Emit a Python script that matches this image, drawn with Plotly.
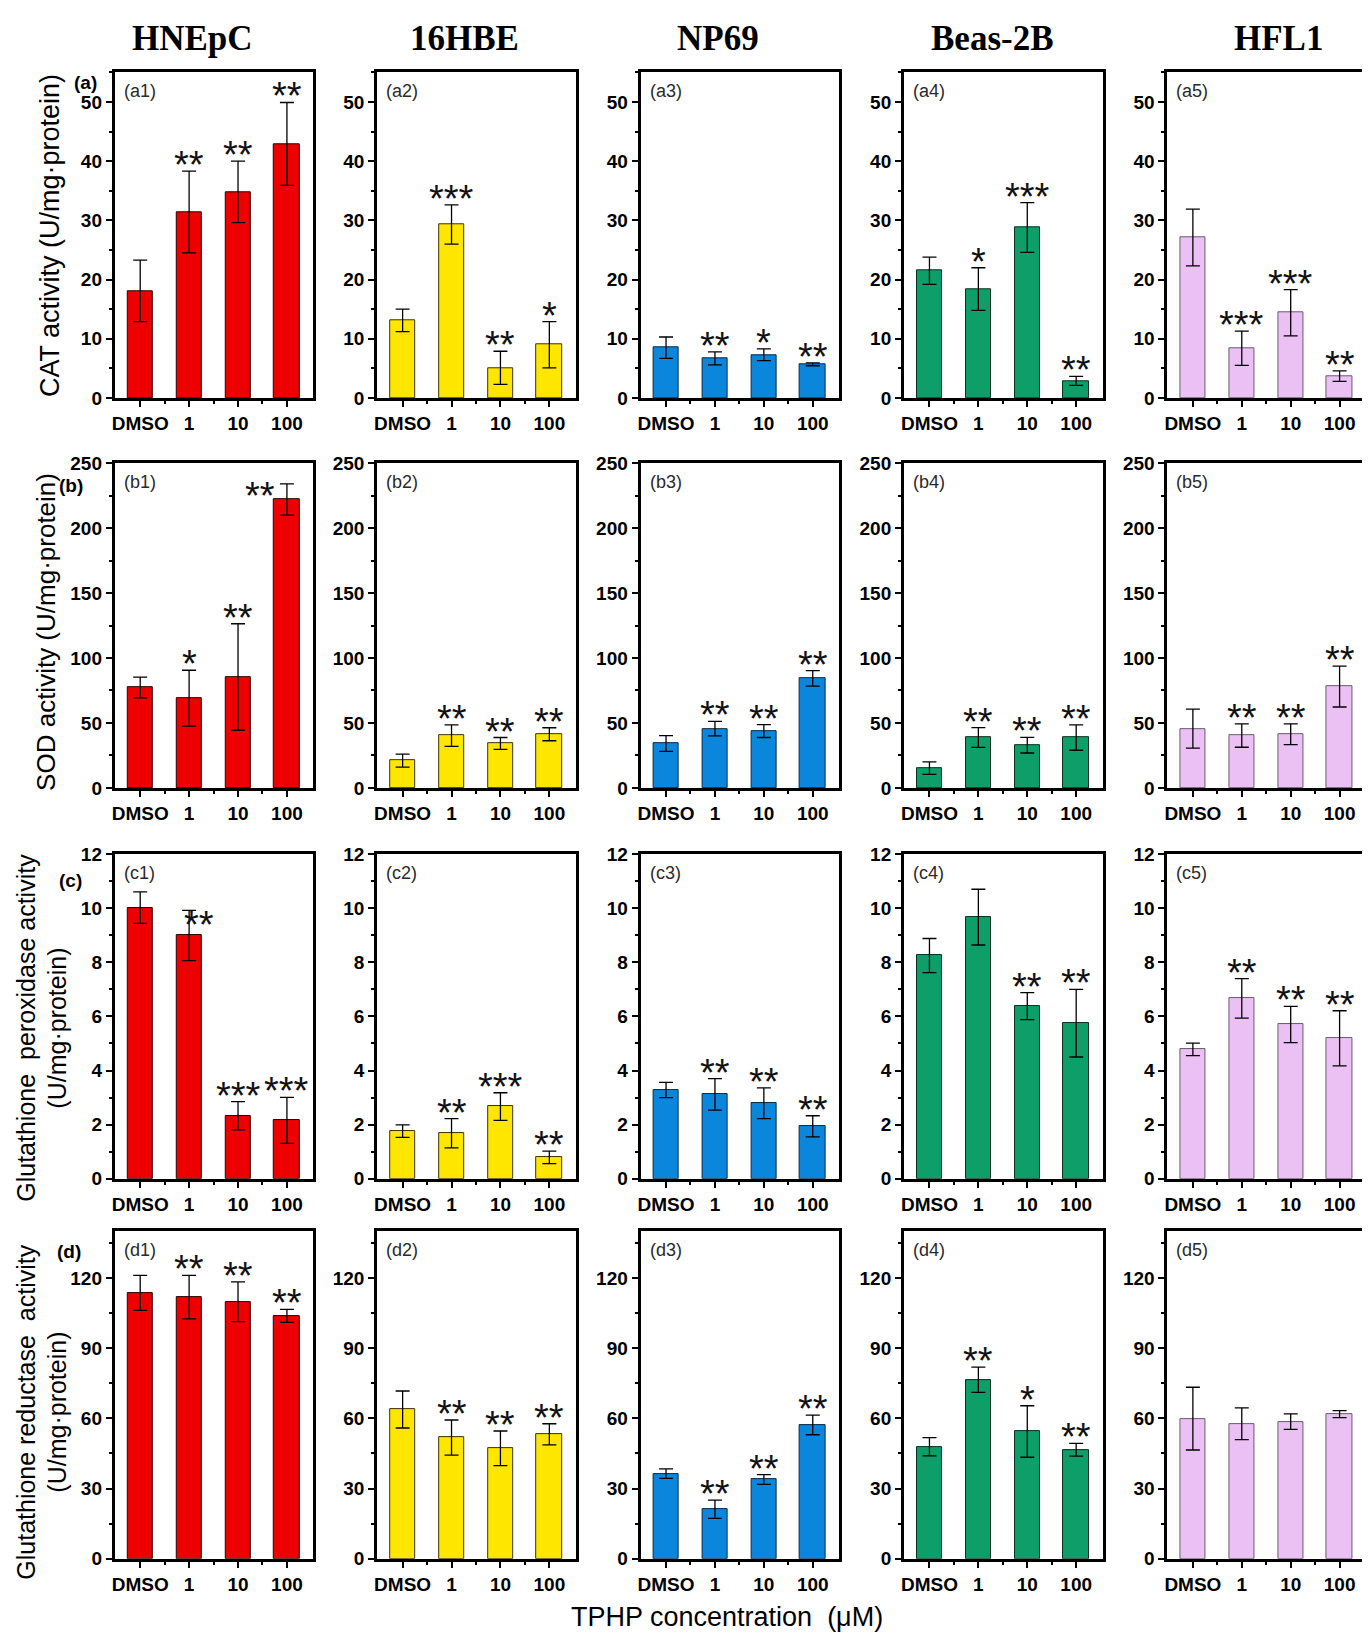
import plotly.graph_objects as go

# page is 1370x1641; the default 8px body margin offsets the figure
PAGE_W, PAGE_H, BODY = 1370, 1641, 8
W, H = PAGE_W - BODY, PAGE_H - 2 * BODY


def px(X):
    return (X - BODY) / W


def py(Y):
    return 1 - (Y - BODY) / H


cells = ["HNEpC", "16HBE", "NP69", "Beas-2B", "HFL1"]
doses = ["DMSO", "1", "10", "100"]
colors = ["#EE0000", "#FFE600", "#0A86DC", "#0E9E6A", "#EBC0F5"]
outline = ["#2a0000", "#3a3300", "#062a44", "#06301f", "#6a5a70"]

# (a) CAT activity
cat_mean = [[18.1, 31.4, 34.8, 42.9], [13.1, 29.3, 5.1, 9.0], [8.5, 6.7, 7.3, 5.7],
            [21.5, 18.4, 28.8, 2.9], [27.1, 8.4, 14.4, 3.7]]
cat_err = [[5.2, 6.9, 5.2, 7.0], [1.9, 3.3, 2.8, 3.9], [1.8, 1.1, 1.0, 0.25],
           [2.3, 3.6, 4.2, 0.75], [4.8, 2.9, 3.9, 0.9]]
cat_sig = [["", "**", "**", "**"], ["", "***", "**", "*"], ["", "**", "*", "**"],
           ["", "*", "***", "**"], ["", "***", "***", "**"]]

# (b) SOD activity
sod_mean = [[77.3, 69.1, 85.4, 222.0], [21.0, 40.3, 34.2, 41.3], [34.2, 45.6, 43.8, 84.3],
            [15.2, 38.8, 32.9, 38.8], [45.6, 40.3, 41.3, 78.0]]
sod_err = [[8.0, 21.5, 41.0, 12.0], [5.0, 8.3, 4.6, 5.0], [6.0, 5.6, 5.0, 6.0],
           [4.8, 7.6, 6.0, 9.8], [15.0, 9.0, 8.0, 15.7]]
sod_sig = [["", "*", "**", "**"], ["", "**", "**", "**"], ["", "**", "**", "**"],
           ["", "**", "**", "**"], ["", "**", "**", "**"]]

# (c) Glutathione peroxidase activity
gpx_mean = [[10.02, 8.99, 2.33, 2.16], [1.76, 1.68, 2.67, 0.79], [3.28, 3.12, 2.79, 1.94],
            [8.25, 9.67, 6.38, 5.75], [4.78, 6.67, 5.70, 5.19]]
gpx_err = [[0.58, 0.93, 0.52, 0.85], [0.23, 0.54, 0.51, 0.23], [0.28, 0.58, 0.57, 0.39],
           [0.63, 1.03, 0.50, 1.25], [0.23, 0.73, 0.67, 1.02]]
gpx_sig = [["", "**", "***", "***"], ["", "**", "***", "**"], ["", "**", "**", "**"],
           ["", "", "**", "**"], ["", "**", "**", "**"]]

# (d) Glutathione reductase activity
gr_mean = [[113.6, 111.8, 109.8, 103.8], [63.8, 51.8, 47.2, 53.2], [36.4, 21.2, 33.9, 57.2],
           [47.9, 76.5, 54.4, 46.6], [59.9, 57.7, 58.6, 61.8]]
gr_err = [[7.5, 9.3, 8.5, 2.8], [7.9, 7.5, 7.4, 4.5], [2.0, 3.9, 2.1, 4.2],
          [3.9, 5.4, 11.0, 2.7], [13.4, 6.8, 3.3, 1.5]]
gr_sig = [["", "**", "**", "**"], ["", "**", "**", "**"], ["", "**", "**", "**"],
          ["", "**", "*", "**"], ["", "", "", ""]]

rows = [
    dict(mean=cat_mean, err=cat_err, sig=cat_sig, rng=[0, 55], dtick=10, minor=5, tag="a"),
    dict(mean=sod_mean, err=sod_err, sig=sod_sig, rng=[0, 250], dtick=50, minor=25, tag="b"),
    dict(mean=gpx_mean, err=gpx_err, sig=gpx_sig, rng=[0, 12], dtick=2, minor=1, tag="c"),
    dict(mean=gr_mean, err=gr_err, sig=gr_sig, rng=[0, 140], dtick=30, minor=15, tag="d"),
]

# layout geometry (page pixels)
lefts = [112, 375, 639, 903, 1167]
pw = 199
tops = [63, 459, 855, 1237]
bots = [393, 788, 1184, 1569]

# special star placements (row, col, dose) -> (xshift, extra yshift)
star_adj = {(1, 0, 3): (-27, -18), (2, 0, 1): (10, -21)}

fig = go.Figure()
annotations = []
xpos = list(range(len(doses)))
tickfont = dict(family="Liberation Sans, Arial", size=19, color="black", weight="bold")

for r, row in enumerate(rows):
    for c in range(5):
        k = r * 5 + c + 1
        xa = "x" if k == 1 else f"x{k}"
        ya = "y" if k == 1 else f"y{k}"
        fig.add_trace(go.Bar(
            x=xpos, y=row["mean"][c], width=0.52, xaxis=xa, yaxis=ya,
            marker=dict(color=colors[c], line=dict(color=outline[c], width=1)),
            error_y=dict(type="data", array=row["err"][c], color="black", thickness=1.3, width=7),
            showlegend=False, hoverinfo="skip",
        ))
        xk = "xaxis" if k == 1 else f"xaxis{k}"
        yk = "yaxis" if k == 1 else f"yaxis{k}"
        fig.layout[xk] = dict(
            domain=[px(lefts[c]), min(1.0, px(lefts[c] + pw))], anchor=ya,
            range=[-0.52, 3.54], tickmode="array", tickvals=xpos, ticktext=doses,
            showline=True, linewidth=3, linecolor="black", mirror=True,
            ticks="outside", ticklen=6, tickwidth=2, tickcolor="black",
            minor=dict(tickmode="array", tickvals=[0.5, 1.5, 2.5], ticks="outside",
                       ticklen=3, tickwidth=2, tickcolor="black"),
            tickfont=tickfont, showgrid=False, zeroline=False, fixedrange=True,
        )
        fig.layout[yk] = dict(
            domain=[py(bots[r]), py(tops[r])], anchor=xa,
            range=row["rng"], tick0=0, dtick=row["dtick"],
            showline=True, linewidth=3, linecolor="black", mirror=True,
            ticks="outside", ticklen=6, tickwidth=2, tickcolor="black",
            minor=dict(dtick=row["minor"], tick0=0, ticks="outside", ticklen=3,
                       tickwidth=2, tickcolor="black"),
            tickfont=tickfont, showgrid=False, zeroline=False, fixedrange=True,
        )
        # sub-panel label
        annotations.append(dict(
            text=f"({row['tag']}{c + 1})", xref="paper", yref="paper",
            x=px(lefts[c] + 7), y=py(tops[r] + 19), xanchor="left", yanchor="middle",
            showarrow=False,
            font=dict(family="Liberation Sans Narrow, Liberation Sans, Arial", size=18, color="#2a2a2a"),
        ))
        # significance stars
        for i, s in enumerate(row["sig"][c]):
            if not s:
                continue
            xs, ys = star_adj.get((r, c, i), (0, 0))
            annotations.append(dict(
                text=s, x=i, y=row["mean"][c][i] + row["err"][c][i], xref=xa, yref=ya,
                xanchor="center", yanchor="bottom", showarrow=False,
                xshift=xs, yshift=-17 + ys,
                font=dict(family="Liberation Sans, Arial", size=38, color="#111"),
            ))

# column titles
title_x = [190, 463, 717, 992, 1278]
for c, name in enumerate(cells):
    annotations.append(dict(
        text=name, xref="paper", yref="paper", x=px(title_x[c]), y=py(29),
        xanchor="center", yanchor="middle", showarrow=False,
        font=dict(family="Liberation Serif, Times New Roman", size=35, color="black", weight="bold"),
    ))

# row panel letters
letters = [("(a)", 83, 73), ("(b)", 68, 482), ("(c)", 68, 882), ("(d)", 66, 1258)]
for t, lx, ly in letters:
    annotations.append(dict(
        text=t, xref="paper", yref="paper", x=px(lx), y=py(ly),
        xanchor="center", yanchor="middle", showarrow=False,
        font=dict(family="Liberation Sans, Arial", size=19, color="black", weight="bold"),
    ))

# y axis titles
ytitles = [
    ("CAT activity (U/mg·protein)", 47, 228, 27),
    ("SOD activity (U/mg·protein)", 43, 630, 26),
    ("Glutathione  peroxidase activity", 23, 1031, 25),
    ("(U/mg·protein)", 54, 1031, 25),
    ("Glutathione reductase  activity", 23, 1420, 25),
    ("(U/mg·protein)", 54, 1420, 25),
]
for t, tx, ty, fs in ytitles:
    annotations.append(dict(
        text=t, xref="paper", yref="paper", x=px(tx), y=py(ty),
        xanchor="center", yanchor="middle", textangle=-90, showarrow=False,
        font=dict(family="Liberation Sans, Arial", size=fs, color="black"),
    ))

# x axis title
annotations.append(dict(
    text="TPHP concentration  (μM)", xref="paper", yref="paper", x=px(726), y=py(1628),
    xanchor="center", yanchor="middle", showarrow=False,
    font=dict(family="Liberation Sans, Arial", size=27, color="black"),
))

fig.update_layout(
    width=W, height=H, margin=dict(l=0, r=0, t=0, b=0),
    paper_bgcolor="white", plot_bgcolor="white",
    annotations=annotations, bargap=0,
)

fig.write_html("out.html", config={"displayModeBar": False})
